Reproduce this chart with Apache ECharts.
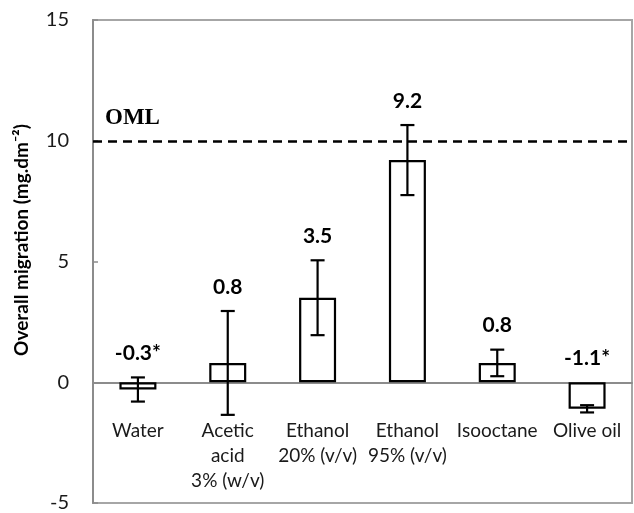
<!DOCTYPE html>
<html><head><meta charset="utf-8">
<script src="https://cdn.jsdelivr.net/npm/echarts@6/dist/echarts.min.js"></script>
<style>html,body{margin:0;padding:0;background:#fff}#c{width:634px;height:513px}</style>
</head><body><div id="c"></div>
<script>
var categories = ['Water', 'Acetic\nacid\n3% (w/v)', 'Ethanol\n20% (v/v)', 'Ethanol\n95% (v/v)', 'Isooctane', 'Olive oil'];
var values = [-0.3, 0.8, 3.5, 9.2, 0.8, -1.1];
var errors = [0.5, 2.15, 1.55, 1.45, 0.55, 0.15];
var valueLabels = ['-0.3*', '0.8', '3.5', '9.2', '0.8', '-1.1*'];
var yTicks = [-5, 0, 5, 10, 15];
var omlValue = 10;

var font = 'Lato, "Open Sans", sans-serif';
var chart = echarts.init(document.getElementById('c'));
var errData = values.map(function (v, i) { return [i, v - errors[i], v + errors[i]]; });

chart.setOption({
  animation: false,
  grid: { left: 93, top: 20, right: 2, bottom: 10, show: true, borderColor: '#a6a6a6', borderWidth: 2,
    containLabel: false, outerBoundsMode: 'none' },
  xAxis: [{
    type: 'category', data: categories, position: 'bottom',
    axisLine: { show: false, onZero: false },
    axisTick: { show: false },
    axisLabel: { margin: -85, verticalAlign: 'top', fontFamily: font, fontSize: 19, color: '#1a1a1a',
      lineHeight: 25, interval: 0, hideOverlap: false }
  }, {
    type: 'category', data: categories,
    axisLine: { onZero: true, lineStyle: { color: '#8c8c8c', width: 2 } },
    axisTick: { show: false },
    axisLabel: { show: false }
  }],
  yAxis: {
    type: 'value', min: yTicks[0], max: yTicks[yTicks.length - 1], interval: 5,
    splitLine: { show: false },
    axisLine: { show: true, lineStyle: { color: '#8c8c8c', width: 2 } },
    axisTick: { show: true, inside: true, length: 5, lineStyle: { color: '#8c8c8c', width: 1.5 } },
    axisLabel: { margin: 24, fontFamily: font, fontSize: 20, color: '#1a1a1a' }
  },
  graphic: [{
    type: 'text', x: 22, y: 240, rotation: Math.PI / 2,
    style: { text: 'Overall migration (mg.dm\u207B\u00B2)', fill: '#000', fontFamily: font, fontWeight: 'bold', fontSize: 19,
      align: 'center', verticalAlign: 'middle' }
  }],
  series: [{
    type: 'bar', data: values, barWidth: 37, z: 2,
    itemStyle: { color: '#fff', borderColor: '#000', borderWidth: 2.2 },
    markLine: {
      silent: true, symbol: 'none',
      lineStyle: { color: '#000', type: [9, 6], width: 2.5 },
      label: { show: true, position: 'insideStartTop', formatter: 'OML', distance: [12, 11],
        fontFamily: '"Liberation Serif", "DejaVu Serif", serif', fontWeight: 'bold', fontSize: 23, color: '#000' },
      data: [{ yAxis: omlValue }]
    }
  }, {
    type: 'custom', data: errData, z: 5,
    renderItem: function (params, api) {
      var x = api.value(0), lo = api.value(1), hi = api.value(2);
      var pLo = api.coord([x, lo]), pHi = api.coord([x, hi]);
      var top = api.coord([x, Math.max(hi, 0)]);
      var cap = 7;
      var st = { stroke: '#000', lineWidth: 2.2 };
      return { type: 'group', children: [
        { type: 'line', shape: { x1: pLo[0], y1: pLo[1], x2: pHi[0], y2: pHi[1] }, style: st },
        { type: 'line', shape: { x1: pLo[0] - cap, y1: pLo[1], x2: pLo[0] + cap, y2: pLo[1] }, style: st },
        { type: 'line', shape: { x1: pHi[0] - cap, y1: pHi[1], x2: pHi[0] + cap, y2: pHi[1] }, style: st },
        { type: 'text', x: top[0], y: top[1] - 24, style: { text: valueLabels[params.dataIndex], fill: '#000',
          fontFamily: font, fontWeight: 'bold', fontSize: 21, align: 'center', verticalAlign: 'middle' } }
      ] };
    }
  }]
});
</script></body></html>
